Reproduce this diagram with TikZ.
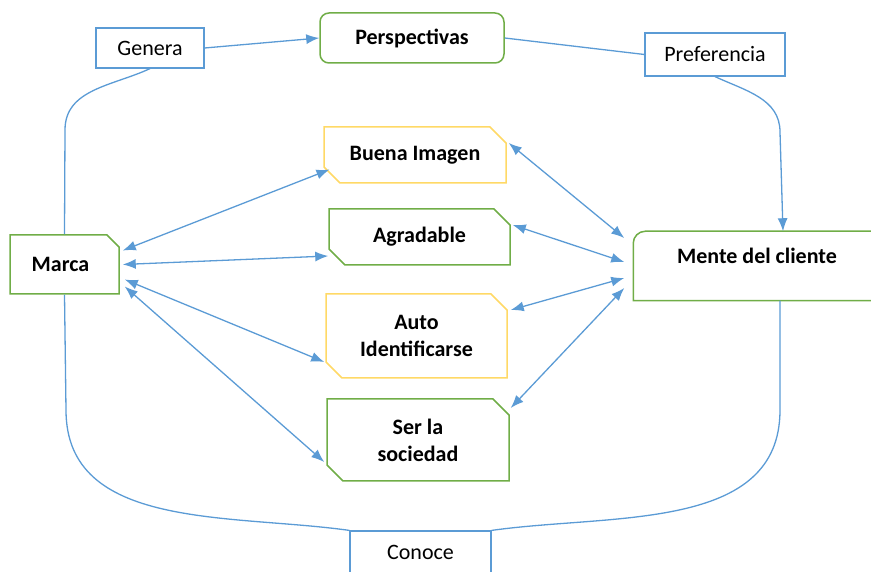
\documentclass[tikz,border=0pt]{standalone}
\usepackage{fontspec}
\setmainfont{Carlito}
\usetikzlibrary{arrows.meta,calc,shapes.misc}
\definecolor{linkblue}{RGB}{91,155,213}
\definecolor{boxgreen}{RGB}{112,173,71}
\definecolor{boxyellow}{RGB}{255,217,102}

\begin{document}
\begin{tikzpicture}[x=1pt,y=1pt]
\tikzstyle{link}=[draw=linkblue, line width=1.3pt]
\tikzstyle{oneway}=[link, -{Latex[length=13pt,width=10pt]}]
\tikzstyle{twoway}=[link, {Latex[length=13pt,width=10pt]}-{Latex[length=13pt,width=10pt]}]
\tikzstyle{tag}=[
    draw=linkblue, line width=1.2pt, fill=white,
    font=\fontsize{22}{27}\selectfont,
    inner sep=0pt, align=center]
\tikzstyle{idea}=[
    font=\fontsize{22}{27}\selectfont\bfseries,
    inner sep=0pt, align=center, line width=1.5pt]
\tikzstyle{snip}=[
    idea, chamfered rectangle,
    chamfered rectangle corners={north east,south west},
    chamfered rectangle xsep=8pt, chamfered rectangle ysep=8pt]
\useasboundingbox (0,0) rectangle (871,571);

% boxes
\node[idea, draw=boxgreen, rounded corners=9pt, minimum width=184, minimum height=50] (persp) at (412,533) {Perspectivas};
\node[tag, minimum width=108, minimum height=40] (genera) at (150,523) {Genera};
\node[tag, minimum width=140, minimum height=43] (pref) at (715,516.5) {Preferencia};
\node[tag, minimum width=141, minimum height=42] (conoce) at (420.5,19) {Conoce};
\node[idea, draw=boxgreen, chamfered rectangle, chamfered rectangle corners=north east,
    chamfered rectangle xsep=6pt, chamfered rectangle ysep=6pt,
    minimum width=109, minimum height=59] (marca) at (64.5,306.5) {Marca\hspace*{8pt}};
\node[snip, draw=boxyellow, minimum width=182, minimum height=56] (buena) at (415,416) {Buena Imagen};
\node[snip, draw=boxgreen, minimum width=181, minimum height=56] (agrad) at (419.5,334) {Agradable};
\node[snip, draw=boxyellow, minimum width=181, minimum height=84] (auto) at (416.5,235) {Auto\\Identificarse};
\node[snip, draw=boxgreen, minimum width=182, minimum height=82] (ser) at (418,131) {Ser la\\sociedad};
\node[idea, minimum width=246, minimum height=68] (mente) at (757,305) {Mente del cliente\\[-14pt]\strut};
\draw[boxgreen, line width=1.5pt] (mente.south east) -- (mente.south west)
    [rounded corners=12pt] -- (mente.north west) -- (mente.north east);

% outer loop
\draw[link] (marca.north) -- (65,441) to[out=90,in=-155] (genera.south);
\draw[oneway] (genera.east) -- (persp.west);
\draw[link] (persp.east) -- (pref.west);
\draw[oneway] (pref.south) to[out=-25,in=90] (780,439) -- ([xshift=26pt]mente.north);
\draw[link] (marca.south) -- (66,161) to[out=-90,in=172] (conoce.north west);
\draw[link] (conoce.north east) to[out=8,in=-90] (780,161) -- ([xshift=23pt]mente.south);

% two-way links
\draw[twoway] ([shift={(3,14)}]marca.east) -- ([shift={(-2,6)}]buena.south west);
\draw[twoway] ([shift={(3,0)}]marca.east) -- ([shift={(0,-19)}]agrad.west);
\draw[twoway] ([shift={(5,-15)}]marca.east) -- ([shift={(-1,-26)}]auto.west);
\draw[twoway] ([shift={(5,-22)}]marca.east) -- ([shift={(-2,-22)}]ser.west);
\draw[twoway] ([shift={(2,12)}]buena.east) -- ([shift={(-9,28)}]mente.west);
\draw[twoway] ([shift={(2,12)}]agrad.east) -- ([shift={(-9,4)}]mente.west);
\draw[twoway] ([shift={(3,26)}]auto.east) -- ([shift={(-9,-12)}]mente.west);
\draw[twoway] ([shift={(1,32)}]ser.east) -- ([shift={(-9,-22)}]mente.west);
\end{tikzpicture}
\end{document}
